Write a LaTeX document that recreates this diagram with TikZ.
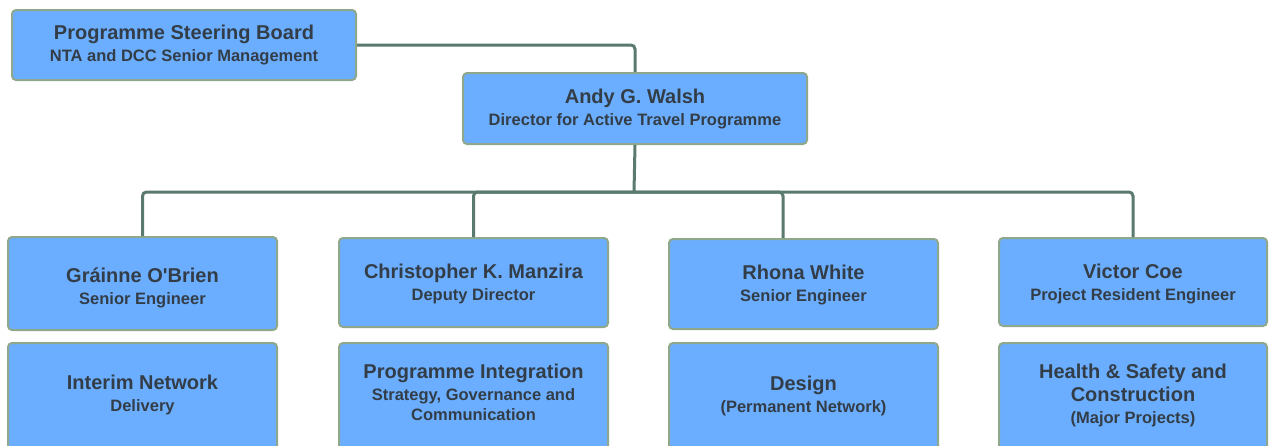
\documentclass[tikz,border=0pt]{standalone}
\usepackage{fontspec}
\setmainfont{Liberation Sans}
\definecolor{fillc}{RGB}{107,174,255}
\definecolor{bordc}{RGB}{143,168,140}
\definecolor{connc}{RGB}{90,122,110}
\definecolor{textc}{RGB}{51,61,71}
\newcommand{\ttl}{\fontsize{20}{22}\selectfont\bfseries}
\newcommand{\sbt}{\fontsize{16.5}{22}\selectfont\bfseries}
\tikzset{
  box/.style={draw=bordc, fill=fillc, line width=2pt, rounded corners=4pt, inner sep=0pt},
  txt/.style={text=textc, align=center, inner sep=0pt, font=\fontsize{20}{22}\selectfont\bfseries},
  conn/.style={draw=connc, line width=3pt, rounded corners=4pt},
}
\begin{document}
\begin{tikzpicture}[x=1pt,y=-1pt]
\useasboundingbox (0,0) rectangle (1269,445);
\clip (0,0) rectangle (1269,445);
\fill[white] (0,0) rectangle (1269,445);
% top boxes
\node[box, minimum width=344pt, minimum height=70pt] (psb) at (184,45) {};
\node[box, minimum width=344pt, minimum height=71pt] (andy) at (635,108.5) {};
% row 2
\node[box, minimum width=269pt, minimum height=93pt] (gbox) at (142.5,283.5) {};
\node[box, minimum width=269pt, minimum height=89pt] (cbox) at (473.5,282.5) {};
\node[box, minimum width=269pt, minimum height=90pt] (rbox) at (803.5,284) {};
\node[box, minimum width=268pt, minimum height=88pt] (vbox) at (1133,282) {};
% row 3
\node[box, minimum width=269pt, minimum height=120pt] (ibox) at (142.5,403) {};
\node[box, minimum width=269pt, minimum height=120pt] (pbox) at (473.5,403) {};
\node[box, minimum width=269pt, minimum height=120pt] (dbox) at (803.5,403) {};
\node[box, minimum width=268pt, minimum height=120pt] (hbox) at (1133,403) {};
% connectors
\coordinate (bus) at (634,192);
\draw[conn] (psb.east) -| (andy.north);
\draw[conn] (andy.south) -- (bus);
\draw[conn] (bus) -| (gbox.north);
\draw[conn] (bus) -| (cbox.north);
\draw[conn] (bus) -| ([xshift=-20.5pt]rbox.north);
\draw[conn] (bus) -| (vbox.north);
% texts
\node[txt] (psbt) at (184,45) {\ttl Programme Steering Board\\\sbt NTA and DCC Senior Management};
\node[txt] (andyt) at (635,109) {\ttl Andy G. Walsh\\\sbt Director for Active Travel Programme};
\node[txt] (gt) at (142.5,288) {\ttl Gráinne O\textquotesingle Brien\\\sbt Senior Engineer};
\node[txt] (ct) at (473.5,284) {\ttl Christopher K. Manzira\\\sbt Deputy Director};
\node[txt] (rt) at (803.5,284.5) {\ttl Rhona White\\\sbt Senior Engineer};
\node[txt] (vt) at (1133,283.5) {\ttl Victor Coe\\\sbt Project Resident Engineer};
\node[txt] (it) at (142.5,395) {\ttl Interim Network\\\sbt Delivery};
\node[txt] (pt) at (473.5,392.5) {\ttl Programme Integration\\\sbt Strategy, Governance and\\[-2pt]\sbt Communication};
\node[txt] (dt) at (803.5,396) {\ttl Design\\\sbt (Permanent Network)};
\node[txt] (ht) at (1133,395.5) {\ttl Health \& Safety and\\[1pt]\ttl Construction\\\sbt (Major Projects)};
\end{tikzpicture}
\end{document}
